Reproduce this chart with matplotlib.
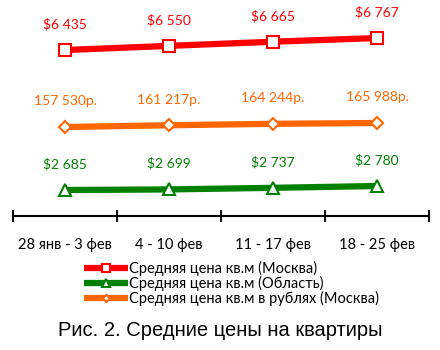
import matplotlib
matplotlib.use("Agg")
import matplotlib.pyplot as plt
from matplotlib.ticker import FixedLocator

plt.rcParams['font.family'] = ['Lato', 'DejaVu Sans']

weeks = ['28 янв - 3 фев', '4 - 10 фев', '11 - 17 фев', '18 - 25 фев']
usd_moscow = [6435, 6550, 6665, 6767]
usd_region = [2685, 2699, 2737, 2780]
rub_moscow = [157530, 161217, 164244, 165988]

usd_moscow_labels = ['$6 435', '$6 550', '$6 665', '$6 767']
usd_region_labels = ['$2 685', '$2 699', '$2 737', '$2 780']
rub_moscow_labels = ['157 530р.', '161 217р.', '164 244р.', '165 988р.']

fig = plt.figure(figsize=(4.4, 3.5), dpi=100)
ax = fig.add_axes([13 / 440, 1 - 216 / 350, 416 / 440, 216 / 350])
x = list(range(len(weeks)))

series = [
    (usd_moscow, usd_moscow_labels, '#ff0000', 's', 9, (1840, 7820), 'Средняя цена кв.м (Москва)'),
    (usd_region, usd_region_labels, '#008000', '^', 9, (2068, 7197), 'Средняя цена кв.м (Область)'),
    (rub_moscow, rub_moscow_labels, '#ff6600', 'D', 6, (-30620, 426000), 'Средняя цена кв.м в рублях (Москва)'),
]

handles = []
for vals, labels, color, marker, ms, lim, name in series:
    a = ax.twinx()
    a.set_ylim(*lim)
    a.axis('off')
    line, = a.plot(x, vals, color=color, lw=4.5, marker=marker, ms=ms,
                   mfc='white', mec=color, mew=1.5, solid_capstyle='butt')
    handles.append((line, name))
    for xi, v, t in zip(x, vals, labels):
        a.annotate(t, (xi, v), xytext=(0, 18.5), textcoords='offset points',
                   ha='center', va='center', color=color, fontsize=10)

ax.set_xlim(-0.5, 3.5)
ax.set_ylim(0, 1)
ax.set_yticks([])
for s in ['top', 'right', 'left']:
    ax.spines[s].set_visible(False)
ax.spines['bottom'].set_linewidth(1.5)
ax.set_xticks(x)
ax.set_xticklabels(weeks, fontsize=10.5)
ax.xaxis.set_minor_locator(FixedLocator([-0.5, 0.5, 1.5, 2.5, 3.5]))
ax.tick_params(axis='x', which='major', length=0, pad=16)
ax.tick_params(axis='x', which='minor', direction='inout', length=8, width=1.5)

fig.legend([h for h, _ in handles], [n for _, n in handles],
           loc='upper left', bbox_to_anchor=(84 / 440, 1 - 261 / 350),
           frameon=False, fontsize=10.5, borderpad=0, labelspacing=0.0,
           handlelength=3.0, handletextpad=0.1, borderaxespad=0,
           markerscale=0.6)

fig.text(0.5, 1 - 330 / 350, 'Рис. 2. Средние цены на квартиры',
         ha='center', va='center', fontsize=14.5, family='Liberation Sans')

fig.savefig('out.png', dpi=100)
